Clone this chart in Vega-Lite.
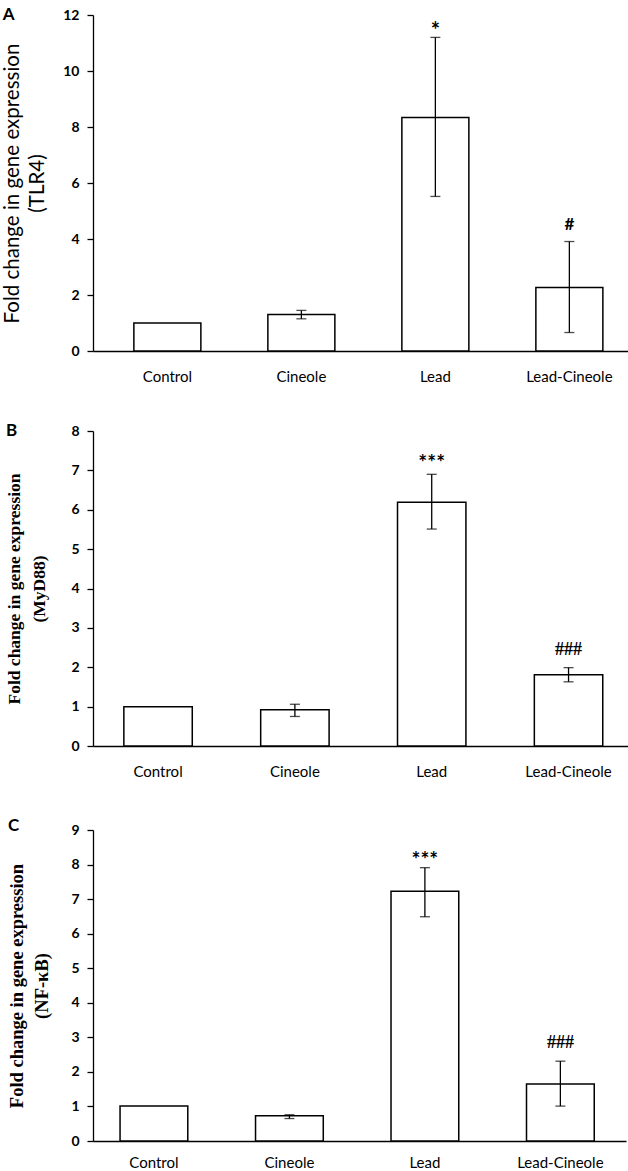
{
  "$schema": "https://vega.github.io/schema/vega-lite/v6.json",
  "background": "white",
  "padding": {"left": 2, "top": 6, "right": 0, "bottom": 0},
  "columns": 1,
  "align": "none",
  "spacing": 38,
  "config": {
    "view": {"stroke": null},
    "axisX": {"domainColor": "black", "domainWidth": 1.5, "ticks": false, "labelPadding": 18, "labelFont": "Lato", "labelFontSize": 15, "labelColor": "black", "labelAngle": 0, "title": null},
    "axisY": {"domainColor": "black", "domainWidth": 1.3, "tickColor": "black", "tickSize": 6, "tickWidth": 1.3, "labelPadding": 8, "labelFont": "Lato", "labelFontSize": 14, "labelFontWeight": "bold", "labelColor": "black", "labelOverlap": false, "grid": false, "titleColor": "black", "titleFontSize": 17, "titleLineHeight": 25}
  },
  "concat": [
    {
      "width": 536, "height": 336,
      "title": {"text": "A", "anchor": "start", "frame": "bounds", "font": "Lato", "fontSize": 17, "fontWeight": "bold", "color": "black", "offset": -16},
      "data": {"values": [
        {"group": "Control", "mean": 1.0, "lo": null, "hi": null, "sig": ""},
        {"group": "Cineole", "mean": 1.3, "lo": 1.15, "hi": 1.45, "sig": ""},
        {"group": "Lead", "mean": 8.34, "lo": 5.52, "hi": 11.2, "sig": "*"},
        {"group": "Lead-Cineole", "mean": 2.27, "lo": 0.66, "hi": 3.91, "sig": "#"}
      ]},
      "encoding": {"x": {"field": "group", "type": "nominal", "sort": ["Control", "Cineole", "Lead", "Lead-Cineole"], "scale": {"paddingInner": 0.5, "paddingOuter": 0.25, "align": 0.61}}},
      "layer": [
        {"mark": {"type": "bar", "fill": "white", "stroke": "black", "strokeWidth": 1.5},
         "encoding": {"y": {"field": "mean", "type": "quantitative", "scale": {"domain": [0, 12]}, "axis": {"values": [0, 2, 4, 6, 8, 10, 12], "title": ["Fold change in gene expression", "(TLR4)"], "titleFont": "Lato", "titleFontWeight": "normal", "titleFontSize": 20.5, "titlePadding": 15}}}},
        {"mark": {"type": "errorbar", "ticks": {"size": 10, "thickness": 1.3, "color": "black"}, "rule": {"strokeWidth": 1.3, "color": "black"}},
         "encoding": {"y": {"field": "lo", "type": "quantitative", "axis": {"values": [0, 2, 4, 6, 8, 10, 12], "title": ["Fold change in gene expression", "(TLR4)"], "titleFont": "Lato", "titleFontWeight": "normal", "titleFontSize": 20.5, "titlePadding": 15}}, "y2": {"field": "hi"}}},
        {"transform": [{"filter": "datum.group === 'Lead'"}],
         "mark": {"type": "text", "font": "Lato", "fontSize": 22, "fontWeight": "bold", "color": "black", "baseline": "alphabetic", "dy": 1},
         "encoding": {"y": {"field": "hi", "type": "quantitative", "axis": {"values": [0, 2, 4, 6, 8, 10, 12], "title": ["Fold change in gene expression", "(TLR4)"], "titleFont": "Lato", "titleFontWeight": "normal", "titleFontSize": 20.5, "titlePadding": 15}}, "text": {"field": "sig"}}},
        {"transform": [{"filter": "datum.group === 'Lead-Cineole'"}],
         "mark": {"type": "text", "font": "Lato", "fontSize": 17, "fontWeight": "bold", "color": "black", "baseline": "alphabetic", "dy": -12},
         "encoding": {"y": {"field": "hi", "type": "quantitative", "axis": {"values": [0, 2, 4, 6, 8, 10, 12], "title": ["Fold change in gene expression", "(TLR4)"], "titleFont": "Lato", "titleFontWeight": "normal", "titleFontSize": 20.5, "titlePadding": 15}}, "text": {"field": "sig"}}}
      ]
    },
    {
      "width": 535, "height": 315,
      "title": {"text": "B", "anchor": "start", "frame": "bounds", "font": "Lato", "fontSize": 17, "fontWeight": "bold", "color": "black", "offset": -16},
      "data": {"values": [
        {"group": "Control", "mean": 1.0, "lo": null, "hi": null, "sig": ""},
        {"group": "Cineole", "mean": 0.92, "lo": 0.75, "hi": 1.06, "sig": ""},
        {"group": "Lead", "mean": 6.19, "lo": 5.51, "hi": 6.9, "sig": "***"},
        {"group": "Lead-Cineole", "mean": 1.81, "lo": 1.63, "hi": 1.99, "sig": "###"}
      ]},
      "encoding": {"x": {"field": "group", "type": "nominal", "sort": ["Control", "Cineole", "Lead", "Lead-Cineole"], "scale": {"paddingInner": 0.5, "paddingOuter": 0.205, "align": 0.55}}},
      "layer": [
        {"mark": {"type": "bar", "fill": "white", "stroke": "black", "strokeWidth": 1.5},
         "encoding": {"y": {"field": "mean", "type": "quantitative", "scale": {"domain": [0, 8]}, "axis": {"values": [0, 1, 2, 3, 4, 5, 6, 7, 8], "title": ["Fold change in gene expression", "(MyD88)"], "titleFont": "Liberation Serif", "titleFontWeight": "bold", "titleFontSize": 17.5, "titlePadding": 22}}}},
        {"mark": {"type": "errorbar", "ticks": {"size": 10, "thickness": 1.3, "color": "black"}, "rule": {"strokeWidth": 1.3, "color": "black"}},
         "encoding": {"y": {"field": "lo", "type": "quantitative", "axis": {"values": [0, 1, 2, 3, 4, 5, 6, 7, 8], "title": ["Fold change in gene expression", "(MyD88)"], "titleFont": "Liberation Serif", "titleFontWeight": "bold", "titleFontSize": 17.5, "titlePadding": 22}}, "y2": {"field": "hi"}}},
        {"transform": [{"filter": "datum.group === 'Lead'"}],
         "mark": {"type": "text", "font": "Lato", "fontSize": 21, "fontWeight": "bold", "color": "black", "baseline": "alphabetic", "dy": -4},
         "encoding": {"y": {"field": "hi", "type": "quantitative", "axis": {"values": [0, 1, 2, 3, 4, 5, 6, 7, 8], "title": ["Fold change in gene expression", "(MyD88)"], "titleFont": "Liberation Serif", "titleFontWeight": "bold", "titleFontSize": 17.5, "titlePadding": 22}}, "text": {"field": "sig"}}},
        {"transform": [{"filter": "datum.group === 'Lead-Cineole'"}],
         "mark": {"type": "text", "font": "Liberation Serif", "fontSize": 18, "fontWeight": "bold", "color": "black", "baseline": "alphabetic", "dy": -13},
         "encoding": {"y": {"field": "hi", "type": "quantitative", "axis": {"values": [0, 1, 2, 3, 4, 5, 6, 7, 8], "title": ["Fold change in gene expression", "(MyD88)"], "titleFont": "Liberation Serif", "titleFontWeight": "bold", "titleFontSize": 17.5, "titlePadding": 22}}, "text": {"field": "sig"}}}
      ]
    },
    {
      "width": 533, "height": 311,
      "title": {"text": "C", "anchor": "start", "frame": "bounds", "font": "Lato", "fontSize": 17, "fontWeight": "bold", "color": "black", "offset": -12},
      "data": {"values": [
        {"group": "Control", "mean": 1.01, "lo": null, "hi": null, "sig": ""},
        {"group": "Cineole", "mean": 0.73, "lo": 0.65, "hi": 0.76, "sig": ""},
        {"group": "Lead", "mean": 7.23, "lo": 6.49, "hi": 7.91, "sig": "***"},
        {"group": "Lead-Cineole", "mean": 1.65, "lo": 1.01, "hi": 2.31, "sig": "###"}
      ]},
      "encoding": {"x": {"field": "group", "type": "nominal", "sort": ["Control", "Cineole", "Lead", "Lead-Cineole"], "scale": {"paddingInner": 0.5, "paddingOuter": 0.217, "align": 0.46}, "axis": {"labelPadding": 14}}},
      "layer": [
        {"mark": {"type": "bar", "fill": "white", "stroke": "black", "strokeWidth": 1.5},
         "encoding": {"y": {"field": "mean", "type": "quantitative", "scale": {"domain": [0, 9]}, "axis": {"values": [0, 1, 2, 3, 4, 5, 6, 7, 8, 9], "title": ["Fold change in gene expression", "(NF-κB)"], "titleFont": "Liberation Serif", "titleFontWeight": "bold", "titleFontSize": 18.5, "titlePadding": 19}}}},
        {"mark": {"type": "errorbar", "ticks": {"size": 10, "thickness": 1.3, "color": "black"}, "rule": {"strokeWidth": 1.3, "color": "black"}},
         "encoding": {"y": {"field": "lo", "type": "quantitative", "axis": {"values": [0, 1, 2, 3, 4, 5, 6, 7, 8, 9], "title": ["Fold change in gene expression", "(NF-κB)"], "titleFont": "Liberation Serif", "titleFontWeight": "bold", "titleFontSize": 18.5, "titlePadding": 19}}, "y2": {"field": "hi"}}},
        {"transform": [{"filter": "datum.group === 'Lead'"}],
         "mark": {"type": "text", "font": "Lato", "fontSize": 21, "fontWeight": "bold", "color": "black", "baseline": "alphabetic", "dy": -1},
         "encoding": {"y": {"field": "hi", "type": "quantitative", "axis": {"values": [0, 1, 2, 3, 4, 5, 6, 7, 8, 9], "title": ["Fold change in gene expression", "(NF-κB)"], "titleFont": "Liberation Serif", "titleFontWeight": "bold", "titleFontSize": 18.5, "titlePadding": 19}}, "text": {"field": "sig"}}},
        {"transform": [{"filter": "datum.group === 'Lead-Cineole'"}],
         "mark": {"type": "text", "font": "Liberation Serif", "fontSize": 18, "fontWeight": "bold", "color": "black", "baseline": "alphabetic", "dy": -13},
         "encoding": {"y": {"field": "hi", "type": "quantitative", "axis": {"values": [0, 1, 2, 3, 4, 5, 6, 7, 8, 9], "title": ["Fold change in gene expression", "(NF-κB)"], "titleFont": "Liberation Serif", "titleFontWeight": "bold", "titleFontSize": 18.5, "titlePadding": 19}}, "text": {"field": "sig"}}}
      ]
    }
  ]
}
